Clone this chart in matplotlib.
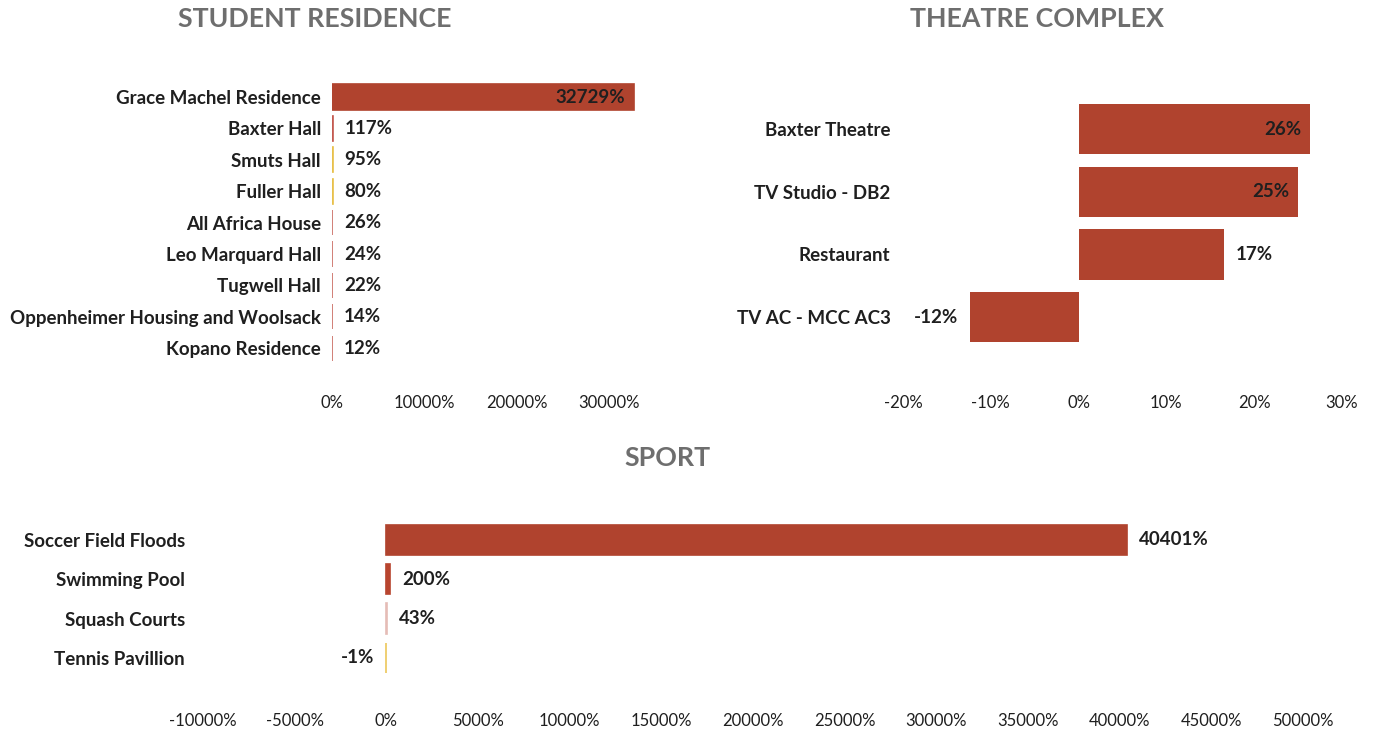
import matplotlib
matplotlib.use("Agg")
import matplotlib.pyplot as plt
from matplotlib.ticker import FuncFormatter

plt.rcParams['font.family'] = ['Lato', 'DejaVu Sans']

# ---------------- data ----------------
res_names = ["Grace Machel Residence", "Baxter Hall", "Smuts Hall", "Fuller Hall",
             "All Africa House", "Leo Marquard Hall", "Tugwell Hall",
             "Oppenheimer Housing and Woolsack", "Kopano Residence"]
res_values = [32729, 117, 95, 80, 26, 24, 22, 14, 12]
res_colors = ["#b0432e", "#c45a50", "#e8c04a", "#e8c04a", "#c96a60", "#c96a60",
              "#c96a60", "#c96a60", "#c96a60"]
res_ticks = [0, 10000, 20000, 30000]

th_names = ["Baxter Theatre", "TV Studio - DB2", "Restaurant", "TV AC - MCC AC3"]
th_values = [26.4, 25.0, 16.6, -12.4]
th_colors = ["#b0432e", "#b0432e", "#b0432e", "#b0432e"]
th_ticks = [-20, -10, 0, 10, 20, 30]

sp_names = ["Soccer Field Floods", "Swimming Pool", "Squash Courts", "Tennis Pavillion"]
sp_values = [40401, 200, 43, -1]
sp_colors = ["#b0432e", "#b8452f", "#e5bcb6", "#ecc75a"]
sp_ticks = [-10000, -5000, 0, 5000, 10000, 15000, 20000, 25000, 30000, 35000,
            40000, 45000, 50000]

W, H = 1373, 731
fig = plt.figure(figsize=(W / 100, H / 100), dpi=100)

def px_axes(x0, y0, x1, y1):
    return fig.add_axes([x0 / W, 1 - y1 / H, (x1 - x0) / W, (y1 - y0) / H])

TXT = "#1f1f1f"
TITLE = "#6e6e6e"
CAT_FS = 13.5
VAL_FS = 13.5
TICK_FS = 12

def style(ax, names, ticks, xlim, tickpad, labelpad):
    ax.set_xlim(*xlim)
    ax.set_xticks(ticks)
    ax.xaxis.set_major_formatter(FuncFormatter(lambda v, p: f"{v:.0f}%"))
    ax.set_yticks(range(len(names)))
    ax.set_yticklabels(names, fontsize=CAT_FS, fontweight="bold", color=TXT)
    ax.set_ylim(len(names) - 0.5, -0.5)
    for s in ax.spines.values():
        s.set_visible(False)
    ax.tick_params(axis="x", length=0, pad=tickpad, labelsize=TICK_FS, labelcolor=TXT)
    ax.tick_params(axis="y", length=0, pad=labelpad)
    ax.patch.set_alpha(0)

def labels(ax, values, inside_thr, out_px=8.5, in_px=6.5):
    for i, v in enumerate(values):
        txt = f"{v:.0f}%"
        if v >= 0:
            if v >= inside_thr:
                ax.annotate(txt, (v, i), xytext=(-in_px, 0), textcoords="offset points",
                            ha="right", va="center", fontsize=VAL_FS,
                            fontweight="bold", color=TXT)
            else:
                ax.annotate(txt, (v, i), xytext=(out_px, 0), textcoords="offset points",
                            ha="left", va="center", fontsize=VAL_FS,
                            fontweight="bold", color=TXT)
        else:
            ax.annotate(txt, (v, i), xytext=(-out_px, 0), textcoords="offset points",
                        ha="right", va="center", fontsize=VAL_FS,
                        fontweight="bold", color=TXT)

# Student residence
ax1 = px_axes(332, 81.3, 641, 364)
ax1.barh(range(len(res_values)), res_values, height=0.8, color=res_colors,
         edgecolor=res_colors, linewidth=1.2)
style(ax1, res_names, res_ticks, (0, 33500), 22.5, 8)
labels(ax1, res_values, 20000)

# Theatre complex
ax2 = px_axes(903, 97.7, 1342, 348.5)
ax2.barh(range(len(th_values)), th_values, height=0.8, color=th_colors)
style(ax2, th_names, th_ticks, (-20, 30), 33.5, 9)
labels(ax2, th_values, 20)

# Sport
ax3 = px_axes(203, 520.3, 1303, 677.5)
ax3.barh(range(len(sp_values)), sp_values, height=0.77, color=sp_colors,
         edgecolor=sp_colors, linewidth=1.2)
style(ax3, sp_names, sp_ticks, (-10000, 50000), 25.5, 13)
labels(ax3, sp_values, 1e9)

fig.text(315 / W, 1 - 19 / H, "STUDENT RESIDENCE", ha="center", va="center",
         fontsize=19.3, fontweight="bold", color=TITLE)
fig.text(1037 / W, 1 - 19 / H, "THEATRE COMPLEX", ha="center", va="center",
         fontsize=19.3, fontweight="bold", color=TITLE)
fig.text(667 / W, 1 - 458 / H, "SPORT", ha="center", va="center",
         fontsize=19.3, fontweight="bold", color=TITLE)

fig.savefig("out.png", dpi=100, facecolor="white")
